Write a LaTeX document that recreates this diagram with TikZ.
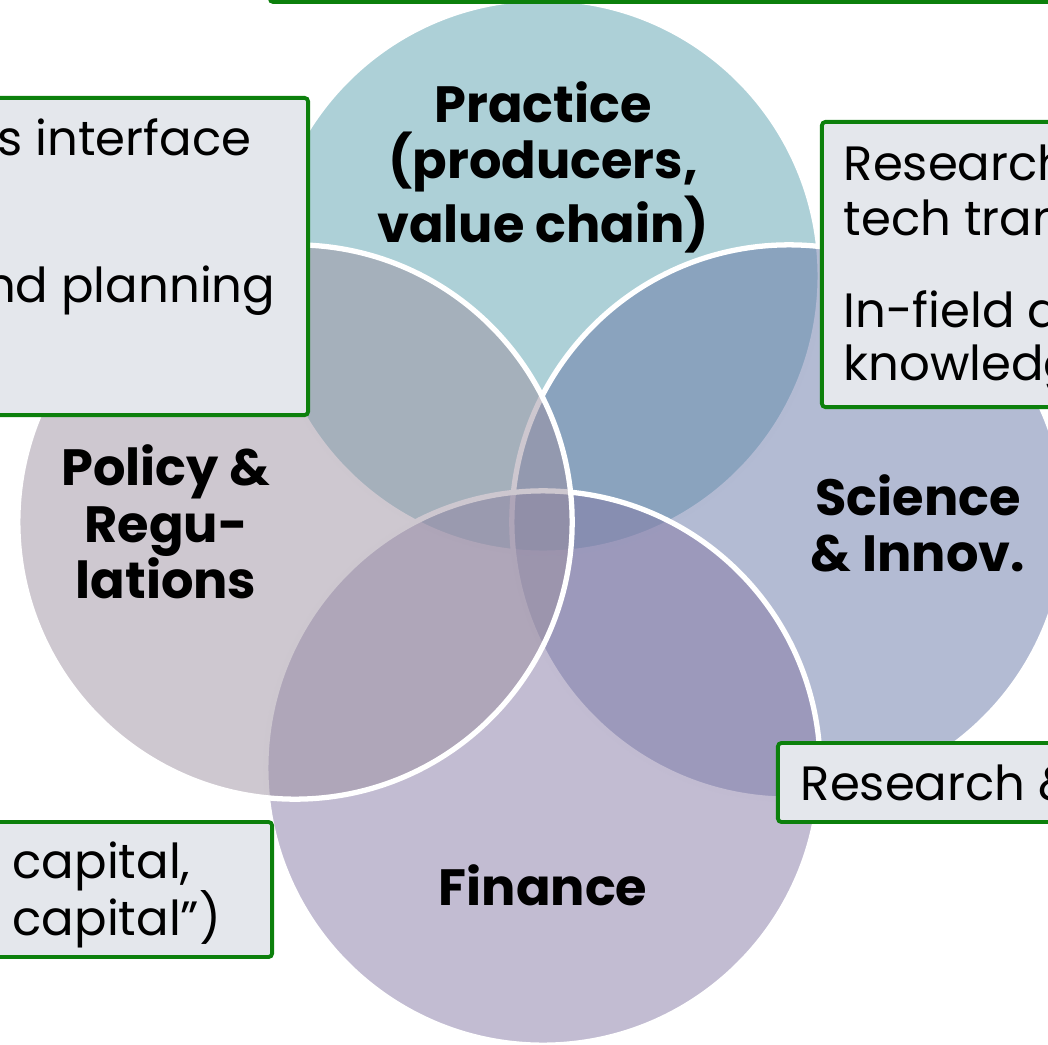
\documentclass[tikz,border=0pt]{standalone}
\usepackage{fontspec}
\setmainfont{Poppins}
\usetikzlibrary{shapes}
\usetikzlibrary{backgrounds}
\usetikzlibrary{fit,calc}
\usepackage{xcolor}
\definecolor{practice}{RGB}{91,161,175}
\definecolor{science}{RGB}{103,119,167}
\definecolor{finance}{RGB}{133,121,165}
\definecolor{policy}{RGB}{157,145,161}
\definecolor{boxfill}{RGB}{228,231,236}
\definecolor{boxline}{RGB}{12,128,12}

\begin{document}
\begin{tikzpicture}[x=0.01cm,y=-0.01cm,
  ring/.style={circle,minimum size=5.54cm,draw=white,line width=1.5pt,fill opacity=0.5,draw opacity=1},
  panel/.style={draw=boxline,fill=boxfill,line width=1.1pt,rounded corners=1pt,inner sep=0pt},
  blurb/.style={font=\fontsize{13.7}{16}\selectfont,inner sep=0pt},
  head/.style={font=\fontsize{14.5}{16}\selectfont\bfseries,align=center,inner sep=0pt}]
\useasboundingbox (0,0) rectangle (1048,1045);
\clip (0,0) rectangle (1048,1045);
\node[ring,fill=practice] (prac) at (543,276) {};
\node[ring,fill=science] (sci) at (789,522) {};
\node[ring,fill=finance] (fin) at (543,768) {};
\node[ring,fill=policy] (pol) at (295,522) {};
\node[panel,minimum width=8.1cm,minimum height=0.62cm] (topbox) at (675,-29) {};
\node[panel,minimum width=3.38cm,minimum height=3.17cm] (polbox) at (139,256.5) {};
\node[panel,minimum width=2.58cm,minimum height=2.85cm] (scibox) at (951,264.5) {};
\node[panel,minimum width=3.02cm,minimum height=0.79cm] (resbox) at (929,782.5) {};
\node[panel,minimum width=3.02cm,minimum height=1.35cm] (finbox) at (121,889.5) {};
\node[blurb,anchor=base east] (p1) at (252,155) {ss interface};
\node[blurb,anchor=base east] (p2) at (276,302) {nd planning};
\node[blurb,anchor=base west] (s1) at (843,180) {Research};
\node[blurb,anchor=base west] (s2) at (843,235) {tech tran};
\node[blurb,anchor=base west] (s3) at (843,327) {In-field de};
\node[blurb,anchor=base west] (s4) at (843,380) {knowledg};
\node[blurb,anchor=base west] (r1) at (800,800) {Research \&};
\node[blurb,anchor=base west] (f1) at (12,878) {capital,};
\node[blurb,anchor=base west] (f2) at (12,935) {capital”)};
\node[head] (prachead) at (543,167) {Practice\\(producers,\\value chain)};
\node[head] (polhead) at (166,522) {Policy \&\\Regu-\\lations};
\node[head] (scihead) at (918,523) {Science\\\& Innov.};
\node[head,anchor=base] (finhead) at (543,905) {Finance};
\end{tikzpicture}
\end{document}
